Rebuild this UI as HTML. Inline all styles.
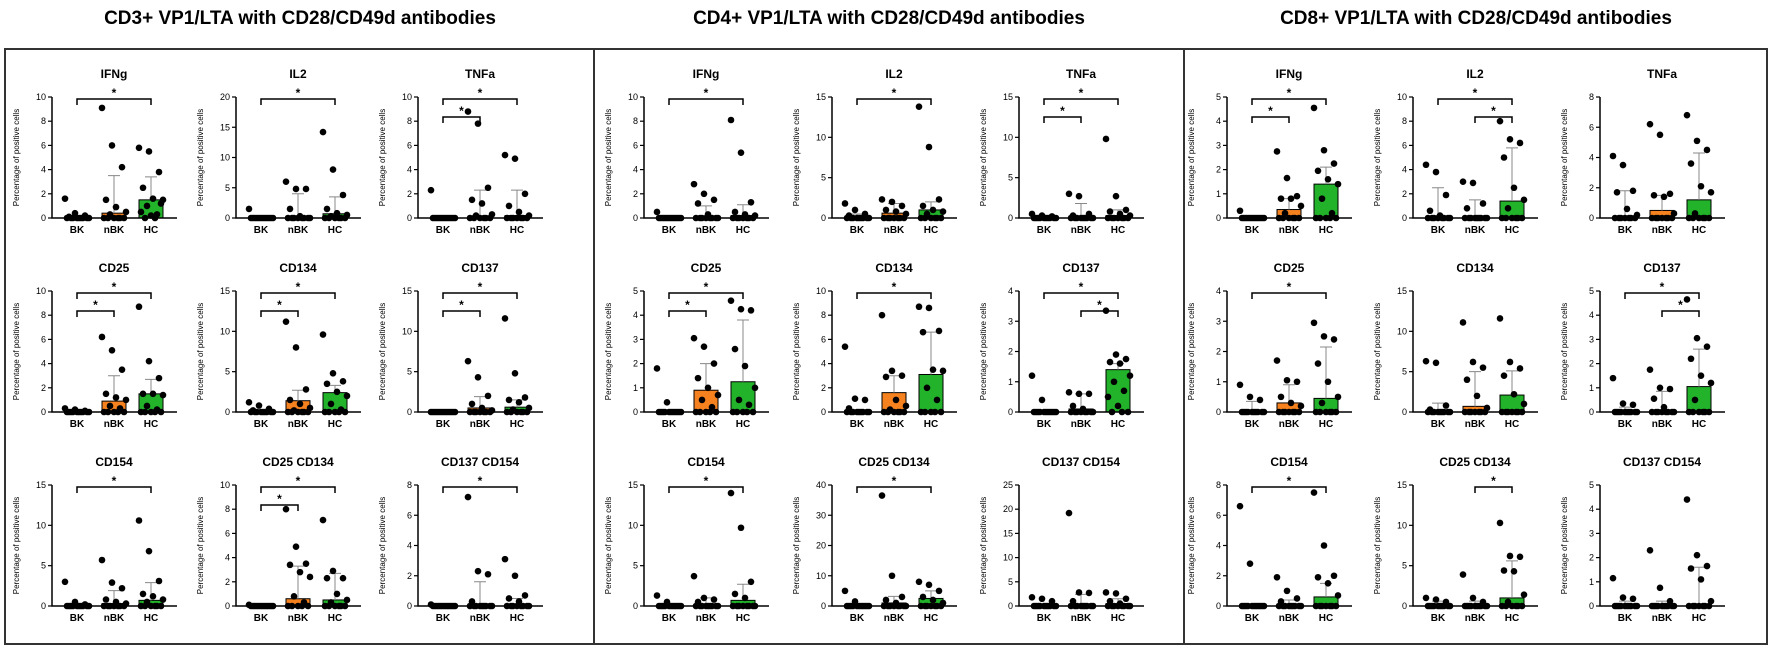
<!DOCTYPE html>
<html><head><meta charset="utf-8">
<style>
html,body{margin:0;padding:0;background:#fff;}
svg{display:block;font-family:"Liberation Sans",Arial,sans-serif;}
</style></head>
<body>
<svg id="fig" width="1772" height="648" viewBox="0 0 1772 648" xmlns="http://www.w3.org/2000/svg">
<rect x="0" y="0" width="1772" height="648" fill="#fff"/>
<text x="300" y="24" text-anchor="middle" font-size="19" font-weight="bold">CD3+ VP1/LTA with CD28/CD49d antibodies</text>
<text x="889" y="24" text-anchor="middle" font-size="19" font-weight="bold">CD4+ VP1/LTA with CD28/CD49d antibodies</text>
<text x="1476" y="24" text-anchor="middle" font-size="19" font-weight="bold">CD8+ VP1/LTA with CD28/CD49d antibodies</text>
<rect x="5" y="49" width="589" height="595" fill="none" stroke="#333" stroke-width="2"/>
<rect x="594" y="49" width="590" height="595" fill="none" stroke="#333" stroke-width="2"/>
<rect x="1184" y="49" width="583" height="595" fill="none" stroke="#333" stroke-width="2"/>
<g id="plots"></g>
</svg>
<script>
const categories = ["BK","nBK","HC"];
const titles = ["IFNg","IL2","TNFa","CD25","CD134","CD137","CD154","CD25 CD134","CD137 CD154",
 "IFNg","IL2","TNFa","CD25","CD134","CD137","CD154","CD25 CD134","CD137 CD154",
 "IFNg","IL2","TNFa","CD25","CD134","CD137","CD154","CD25 CD134","CD137 CD154"];
const yMaxes = [10,20,10,10,15,15,15,10,8, 10,15,15,5,10,4,15,40,25, 5,10,8,4,15,5,8,15,5];
const ySteps = [2,5,2,2,5,5,5,2,2, 2,5,5,1,2,1,5,10,5, 1,2,2,1,5,1,2,5,1];
const medians = [[0,0.4,1.5],[0,0.2,0.7],[0,0.1,0.2],[0,0.9,1.5],[0,1.4,2.4],[0,0.5,0.6],[0,0.3,0.7],[0,0.6,0.5],[0,0,0.1],
 [0,0,0.2],[0.1,0.6,1.0],[0,0.2,0.3],[0,0.9,1.25],[0,1.6,3.1],[0,0.1,1.4],[0,0.2,0.7],[0,1,2.5],[0,0.3,0.5],
 [0,0.35,1.4],[0,0,1.4],[0.1,0.5,1.2],[0,0.3,0.45],[0,0.7,2.1],[0,0,1.05],[0,0,0.6],[0,0,1],[0,0,0]];
const errTops = [[0,3.5,3.4],[0,4,3.5],[0,2.3,2.3],[0,3,2.7],[0,2.7,3.3],[0,1.9,1.5],[0,1.9,2.9],[0,3.3,2.7],[0,1.6,0.5],
 [0,1,1.1],[0.5,1.8,2],[0,1.8,1],[0,2,3.8],[0,3,6.6],[0,0.6,1.6],[0,1,2.7],[0,3.2,5],[0,2.4,1.5],
 [0,0.8,2.1],[2.5,1.5,5.8],[1.8,1.5,4.3],[0.35,0.9,2.15],[1.1,5,5.1],[0.2,0.85,2.6],[0,0.4,1.5],[0.6,0.6,5.6],[0.2,0.2,1.6]];
const dotsBK = [[1.6,0.4,0.2,0.1],[1.5],[2.3],[0.3,0.2,0.1],[1.2,0.8,0.4,0.2],[],[3,0.5,0.2],[0.1],[0.1],
 [0.5],[1.8,1,0.5,0.3],[0.5,0.3,0.2],[1.8,0.4],[5.4,1.1,1,0.3],[1.2,0.4],[1.3,0.5],[5,1.5],[1.8,1.5,1],
 [0.3],[4.4,3.8,1.9,0.6,0.2],[4.1,3.5,1.8,1.7,0.6,0.2],[0.9,0.5,0.4],[6.3,6.1,0.8,0.3],[1.4,0.35,0.3],[6.6,2.8],[1,0.8,0.5],[1.15,0.35,0.3]];
const dotsNBK = [[9.1,6,4.2,1.5,0.9,0.5,0.3],[6,4.8,4.8,1.5,0.3],[8.8,7.8,2.5,1.5,1.2,0.3,0.2],[6.2,5.1,3.5,1.5,1.2,1,0.5,0.3],[11.2,8,2.8,1.5,1,0.5,0.2],[6.3,4.3,2,1,0.5,0.2],[5.7,2.9,2.2,0.8,0.5,0.3],[8,4.9,3.5,3.4,2.8,2.4,0.8,0.3],[7.2,2.3,2.1,0.3],
 [2.8,2,1.5,1.2,0.3],[2.3,2,1.5,1,0.8,0.5],[3,2.7,0.5,0.3],[3.05,2.7,2,1.4,1,0.7,0.5,0.2],[8,3.4,3,2.9,1,0.5,0.2],[0.65,0.6,0.6,0.2,0.1],[3.7,1,0.8,0.5],[36.5,10,3,2,1],[19.2,2.8,2.7,1],
 [2.75,1.65,0.9,0.8,0.8,0.5,0.2],[3.0,2.9,1.2,0.8],[6.2,5.5,1.6,1.5,1.4,0.3],[1.7,1.05,1,0.5,0.3,0.2],[11.1,6.2,5.5,4,2,0.5],[1.75,1,0.95,0.55,0.2],[1.9,1,0.5,0.3],[3.9,1,0.5],[2.3,0.75,0.2]];
const dotsHC = [[5.8,5.5,3.8,2.5,1.6,1.5,1.0,0.3,0.5,0.2,1.2],[14.2,8,3.8,1.5,0.8,0.5,0.3],[5.2,4.9,2.0,1.0,0.5,0.2],[8.7,4.2,2.8,1.5,1.5,1.4,0.5,0.2],[9.6,4.8,3.8,3.5,2.5,2,1,0.3],[11.6,4.8,1.8,1.5,1.2,0.5,0.3],[10.6,6.8,3.1,1.5,1.2,0.8,0.5],[7.1,2.9,2.3,2.3,1,0.5,0.3],[3.1,2,0.7,0.5,0.3],
 [8.1,5.4,1.3,0.5,0.3,0.2],[13.8,8.8,2.3,1.5,1,0.8,0.5],[9.8,2.7,1,0.8,0.5,0.3],[4.6,4.25,4.2,2.6,1.9,1.0,0.5,0.3],[8.7,8.6,6.7,6.6,3.5,3.4,2,1],[3.35,1.9,1.75,1.65,1.6,1.2,1,0.7,0.5,0.2],[14,9.7,3,1.5,1],[8,7,5,3,2,1],[2.8,2.6,1.5,1,0.5],
 [4.55,2.8,2.25,1.95,1.6,1.4,0.8,0.2],[8,6.5,6.2,5,2.5,1.5,0.8],[6.8,5.1,4.5,3.6,2.1,1.7,0.3],[2.95,2.5,2.4,1.6,1,0.5,0.3],[11.6,6.2,5.4,4.5,2.2,1],[4.65,3.05,2.7,2.2,1.5,1.2,0.5],[7.5,4,2,1.9,1.5,0.7],[10.3,6.2,6.1,4.4,4.3,1.4,0.5],[4.4,2.1,1.65,1.55,1.1,0.2]];
const brackets = [[[0,2]],[[0,2]],[[0,2],[0,1]],[[0,2],[0,1]],[[0,2],[0,1]],[[0,2],[0,1]],[[0,2]],[[0,2],[0,1]],[[0,2]],
 [[0,2]],[[0,2]],[[0,2],[0,1]],[[0,2],[0,1]],[[0,2]],[[0,2],[1,2]],[[0,2]],[[0,2]],[],
 [[0,2],[0,1]],[[0,2],[1,2]],[],[[0,2]],[],[[0,2],[1,2]],[[0,2]],[[1,2]],[]];

const NS = "http://www.w3.org/2000/svg";
const root = document.getElementById('plots');
const colX = [[52,236,418],[644,832,1019],[1227,1413,1600]];
const rowZero = [218,412,606];
const plotH = 121, plotW = 125;
const catOff = [25,62,99];
const barFill = ["#ffffff","#f5821f","#22b32a"];
const TOTAL = 13;

function mk(tag, attrs, parent){
  const e = document.createElementNS(NS, tag);
  for (const k in attrs) e.setAttribute(k, attrs[k]);
  parent.appendChild(e);
  return e;
}

for (let p = 0; p < 3; p++) {
  for (let r = 0; r < 3; r++) {
    for (let c = 0; c < 3; c++) {
      const i = p*9 + r*3 + c;
      const ax = colX[p][c], zy = rowZero[r];
      const ymax = yMaxes[i];
      const yS = v => zy - (v / ymax) * plotH;
      const xS = k => ax + catOff[k];
      const g = mk('g', {}, root);
      
      
      const t = mk('text', {x: ax+62, y: zy-140, 'text-anchor':'middle','font-size':12,'font-weight':'bold'}, g);
      t.textContent = titles[i];
      
      
      const yt = mk('text', {x:0,y:0,'font-size':8,'text-anchor':'middle',transform:`translate(${ax-33},${zy-plotH/2}) rotate(-90)`}, g);
      yt.textContent = 'Percentage of positive cells';
      
      
      for (let k = 0; k < 3; k++) {
        const top = yS(medians[i][k]);
        const b = mk('rect', {x: xS(k)-12, y: top, width: 24, height: Math.max(0, zy-top), fill: barFill[k], stroke:'#000','stroke-width':1}, g);
        
        
      }
      for (let k = 0; k < 3; k++) {
        const et = yS(errTops[i][k]);
        const eb = mk('path', {d:`M${xS(k)},${yS(medians[i][k])}V${et}M${xS(k)-6},${et}H${xS(k)+6}`, stroke:'#888','stroke-width':1,fill:'none'}, g);
        
        
      }
      const groups = [dotsBK[i], dotsNBK[i], dotsHC[i]];
      for (let k = 0; k < 3; k++) {
        const vals = groups[k].slice();
        while (vals.length < TOTAL) vals.push(0);
        vals.forEach((v, j) => {
          const off = ((j * 5) % 13 - 6) * 2;
          const d = mk('circle', {cx: xS(k)+off, cy: yS(v), r: 3.3, fill:'#000'}, g);
          
          
        });
      }
      const axl = mk('path', {d:`M${ax},${zy-plotH}V${zy}H${ax+plotW}`, stroke:'#000','stroke-width':1.5,fill:'none'}, g);
      
      
      for (let v = 0; v <= ymax + 1e-9; v += ySteps[i]) {
        const y = yS(v);
        mk('line', {x1:ax-4,x2:ax,y1:y,y2:y,stroke:'#000','stroke-width':1.2}, g);
        const tl = mk('text', {x:ax-6,y:y+3,'text-anchor':'end','font-size':9}, g);
        tl.textContent = String(v);
        
        
      }
      for (let k = 0; k < 3; k++) {
        const xl = mk('text', {x:xS(k), y: zy+15, 'text-anchor':'middle','font-size':10,'font-weight':'bold'}, g);
        xl.textContent = categories[k];
        
        
      }
      brackets[i].forEach((br, n) => {
        const by = zy - plotH + 2 + n*18;
        const x1 = xS(br[0]), x2 = xS(br[1]);
        const bp = mk('path', {d:`M${x1},${by+6}V${by}H${x2}V${by+6}`, stroke:'#000','stroke-width':1.5,fill:'none'}, g);
        
        
        const st = mk('text', {x:(x1+x2)/2, y: by-2, 'text-anchor':'middle','font-size':12,'font-weight':'bold'}, g);
        st.textContent = '*';
        
        
      });
    }
  }
}
</script>
</body></html>
